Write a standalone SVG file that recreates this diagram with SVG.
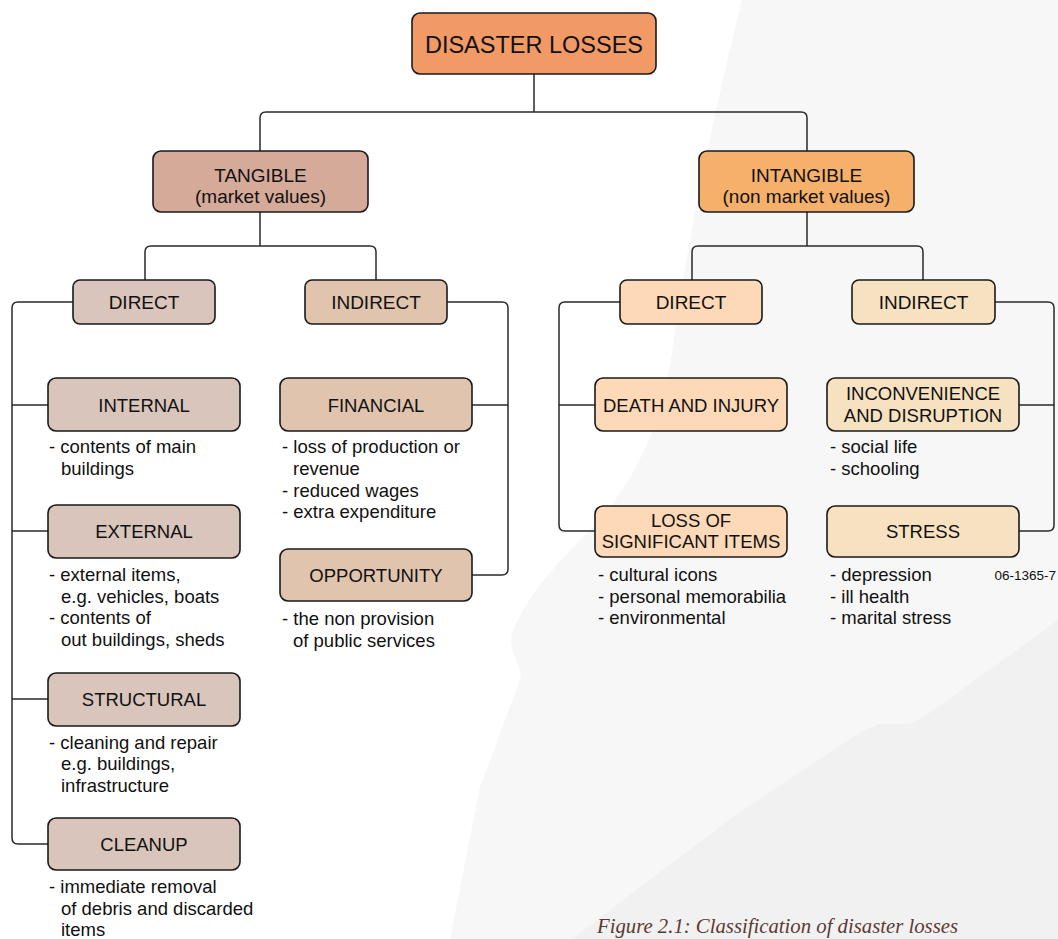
<svg xmlns="http://www.w3.org/2000/svg" width="1058" height="939" viewBox="0 0 1058 939">
<style>
.box{stroke:#1a1a1a;stroke-width:1.6}
.c{fill:none;stroke:#2a2a2a;stroke-width:1.5}
text{font-family:"Liberation Sans",Arial,sans-serif;fill:#111}
.t1{font-size:23.5px;text-anchor:middle}
.t2{font-size:19px;text-anchor:middle}
.t3{font-size:18.5px;text-anchor:middle}
.l{font-size:18.5px}
.fig{font-family:"Liberation Serif","Times New Roman",serif;font-style:italic;font-size:20px;fill:#5a3b33}
.code{font-size:13.5px;text-anchor:end}
.a{fill:#f19a66}.b{fill:#d5aa99}.bi{fill:#f5b06c}
.d{fill:#d9c5bb}.e{fill:#e0c4ae}.f{fill:#fdd9b7}.g{fill:#f6e1c0}
</style>
<rect x="0" y="0" width="1058" height="939" fill="#ffffff"/>
<path d="M742,0 L1058,0 L1058,939 L450,939 L480,787 L521,677 C519,660 508,650 512,633 C530,590 560,560 600,520 C640,470 665,420 675,330 C690,230 712,120 742,0 Z" fill="#f7f7f7"/>
<path d="M572,939 L738,813 L849,740 C870,725 880,722 900,724 C915,726 930,712 952,697 L1058,620 L1058,939 Z" fill="#f1f1f1"/>

<g id="connectors">
<path class="c" d="M534,74 V112 M260,151 V118 Q260,112 266,112 H801 Q807,112 807,118 V151"/>
<path class="c" d="M260,212 V246 M145,280 V252 Q145,246 151,246 H370 Q376,246 376,252 V280"/>
<path class="c" d="M807,212 V246 M692,280 V252 Q692,246 698,246 H917 Q923,246 923,252 V280"/>
<path class="c" d="M73,302 H18 Q12,302 12,308 V838 Q12,844 18,844 H48 M12,405 H48 M12,531 H48 M12,699 H48"/>
<path class="c" d="M447,302 H502 Q508,302 508,308 V569 Q508,575 502,575 H472 M472,405 H508"/>
<path class="c" d="M620,302 H565 Q559,302 559,308 V525 Q559,531 565,531 H595 M559,405 H595"/>
<path class="c" d="M995,302 H1048 Q1054,302 1054,308 V525 Q1054,531 1048,531 H1019 M1019,405 H1054"/>
</g>

<g id="disaster-losses"><rect class="box a" x="412" y="13" width="244" height="61" rx="8"/><text class="t1" x="534" y="53">DISASTER LOSSES</text></g>

<g id="tangible"><rect class="box b" x="153" y="151" width="215" height="61" rx="8"/><text class="t2" x="260.5" y="182">TANGIBLE</text><text class="t2" x="260.5" y="203">(market values)</text></g>
<g id="intangible"><rect class="box bi" x="699" y="151" width="215" height="61" rx="8"/><text class="t2" x="806.5" y="182">INTANGIBLE</text><text class="t2" x="806.5" y="203">(non market values)</text></g>

<g id="t-direct"><rect class="box d" x="73" y="280" width="142" height="44" rx="7"/><text class="t2" x="144" y="309">DIRECT</text></g>
<g id="t-indirect"><rect class="box e" x="305" y="280" width="142" height="44" rx="7"/><text class="t2" x="376" y="309">INDIRECT</text></g>
<g id="i-direct"><rect class="box f" x="620" y="280" width="142" height="44" rx="7"/><text class="t2" x="691" y="309">DIRECT</text></g>
<g id="i-indirect"><rect class="box g" x="852" y="280" width="143" height="44" rx="7"/><text class="t2" x="923.5" y="309">INDIRECT</text></g>

<g id="internal"><rect class="box d" x="48" y="378" width="192" height="53" rx="8"/><text class="t3" x="144" y="411.5">INTERNAL</text>
<text class="l" x="49" y="453">- contents of main</text><text class="l" x="61" y="475">buildings</text></g>
<g id="external"><rect class="box d" x="48" y="505" width="192" height="53" rx="8"/><text class="t3" x="144" y="538">EXTERNAL</text>
<text class="l" x="49" y="581">- external items,</text><text class="l" x="61" y="603">e.g. vehicles, boats</text><text class="l" x="49" y="624">- contents of</text><text class="l" x="61" y="646">out buildings, sheds</text></g>
<g id="structural"><rect class="box d" x="48" y="673" width="192" height="53" rx="8"/><text class="t3" x="144" y="706">STRUCTURAL</text>
<text class="l" x="49" y="749">- cleaning and repair</text><text class="l" x="61" y="770">e.g. buildings,</text><text class="l" x="61" y="792">infrastructure</text></g>
<g id="cleanup"><rect class="box d" x="48" y="818" width="192" height="52" rx="8"/><text class="t3" x="144" y="850.5">CLEANUP</text>
<text class="l" x="49" y="893">- immediate removal</text><text class="l" x="61" y="915">of debris and discarded</text><text class="l" x="61" y="936">items</text></g>

<g id="financial"><rect class="box e" x="280" y="378" width="192" height="53" rx="8"/><text class="t3" x="376" y="411.5">FINANCIAL</text>
<text class="l" x="282" y="453">- loss of production or</text><text class="l" x="293" y="475">revenue</text><text class="l" x="282" y="497">- reduced wages</text><text class="l" x="282" y="518">- extra expenditure</text></g>
<g id="opportunity"><rect class="box e" x="280" y="549" width="192" height="52" rx="8"/><text class="t3" x="376" y="581.5">OPPORTUNITY</text>
<text class="l" x="282" y="625">- the non provision</text><text class="l" x="293" y="647">of public services</text></g>

<g id="death"><rect class="box f" x="595" y="378" width="192" height="53" rx="8"/><text class="t3" x="691" y="411.5">DEATH AND INJURY</text></g>
<g id="loss-items"><rect class="box f" x="595" y="506" width="192" height="51" rx="8"/><text class="t3" x="691" y="527">LOSS OF</text><text class="t3" x="691" y="548">SIGNIFICANT ITEMS</text>
<text class="l" x="598" y="581">- cultural icons</text><text class="l" x="598" y="603">- personal memorabilia</text><text class="l" x="598" y="624">- environmental</text></g>

<g id="inconvenience"><rect class="box g" x="827" y="378" width="192" height="53" rx="8"/><text class="t3" x="923" y="400">INCONVENIENCE</text><text class="t3" x="923" y="422">AND DISRUPTION</text>
<text class="l" x="830" y="453">- social life</text><text class="l" x="830" y="475">- schooling</text></g>
<g id="stress"><rect class="box g" x="827" y="506" width="192" height="51" rx="8"/><text class="t3" x="923" y="538">STRESS</text>
<text class="l" x="830" y="581">- depression</text><text class="l" x="830" y="603">- ill health</text><text class="l" x="830" y="624">- marital stress</text></g>

<text class="code" x="1056" y="580">06-1365-7</text>
<text class="fig" x="597" y="933" textLength="361" lengthAdjust="spacingAndGlyphs">Figure 2.1: Classification of disaster losses</text>
</svg>
